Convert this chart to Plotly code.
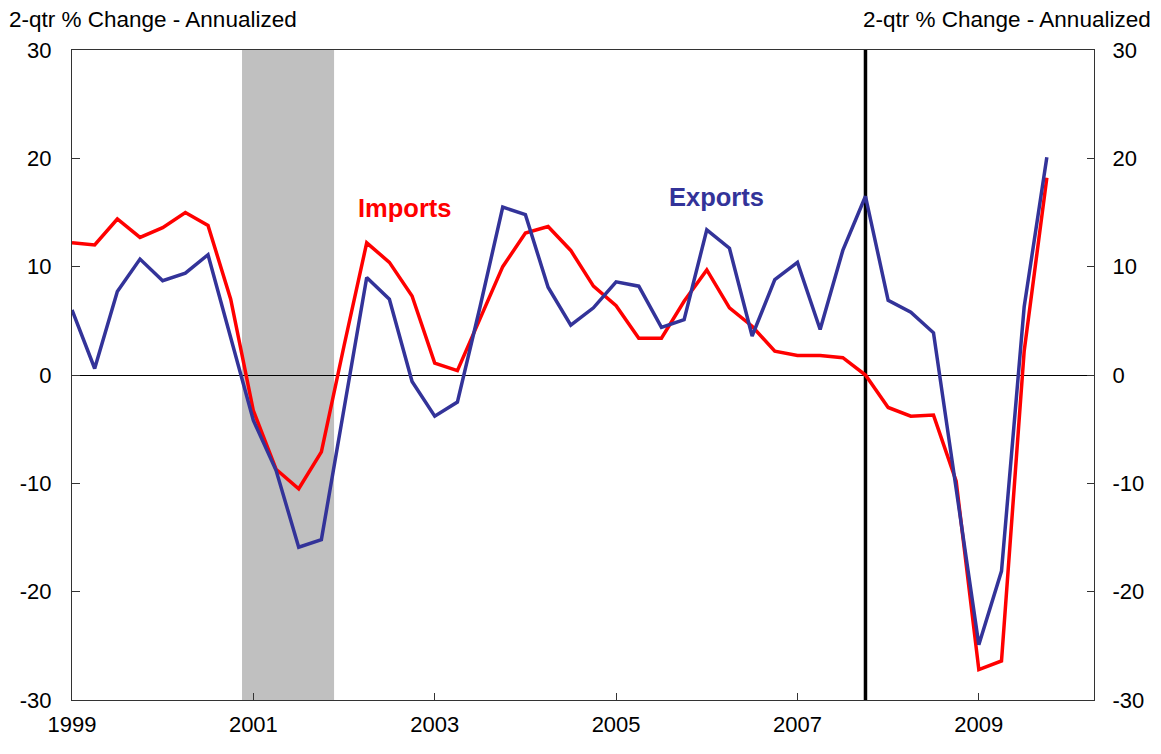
import plotly.graph_objects as go

# Quarterly observations, 1999Q1 .. 2009Q4
quarters = [1999 + q / 4 for q in range(44)]

imports = [12.2, 12.0, 14.4, 12.7, 13.6, 15.0, 13.8, 7.0,
           -3.3, -8.7, -10.5, -7.1, 2.7, 12.2, 10.4, 7.3,
           1.1, 0.4, 5.2, 10.0, 13.1, 13.7, 11.5, 8.2,
           6.4, 3.4, 3.4, 6.8, 9.7, 6.2, 4.5, 2.2,
           1.8, 1.8, 1.6, 0.0, -3.0, -3.8, -3.7, -9.8,
           -27.2, -26.4, 2.2, 18.2]

exports = [6.0, 0.6, 7.7, 10.7, 8.7, 9.4, 11.1, 3.5,
           -4.2, -8.8, -15.9, -15.2, -3.3, 9.0, 7.0, -0.6,
           -3.8, -2.5, 6.3, 15.5, 14.8, 8.1, 4.6, 6.2,
           8.6, 8.2, 4.4, 5.1, 13.4, 11.7, 3.6, 8.8,
           10.4, 4.2, 11.5, 16.5, 6.9, 5.8, 3.9, -10.5,
           -24.9, -18.1, 6.3, 20.1]

recession = [2000.875, 2001.89]
cycle_peak = 2007.75
x_ticks = [1999, 2001, 2003, 2005, 2007, 2009]
y_ticks = [-30, -20, -10, 0, 10, 20, 30]
y_tick_text = ["-30", "-20", "-10", "0", "10", "20", "30"]
x_range = [1999, 2010.27]
y_range = [-30, 30]
axis_title = "2-qtr % Change - Annualized"

FONT = "Liberation Sans, Arial, sans-serif"
RED = "#FF0000"
BLUE = "#333399"
AXC = "#333333"

fig = go.Figure()
fig.add_trace(go.Scatter(x=quarters, y=imports, mode="lines", name="Imports",
                         line=dict(color=RED, width=3.5), showlegend=False))
fig.add_trace(go.Scatter(x=quarters, y=exports, mode="lines", name="Exports",
                         line=dict(color=BLUE, width=3.5), showlegend=False,
                         yaxis="y2"))

fig.add_shape(type="rect", xref="x", yref="paper", x0=recession[0], x1=recession[1],
              y0=0, y1=1, fillcolor="#C0C0C0", line_width=0, layer="below")
fig.add_shape(type="line", xref="x", yref="paper", x0=cycle_peak, x1=cycle_peak,
              y0=0, y1=1, line=dict(color="black", width=3.5), layer="below")

fig.add_annotation(x=2002.67, y=15.4, text="<b>Imports</b>", showarrow=False,
                   font=dict(color=RED, size=25.5, family=FONT))
fig.add_annotation(x=2006.11, y=16.4, text="<b>Exports</b>", showarrow=False,
                   font=dict(color=BLUE, size=25.5, family=FONT))

fig.add_annotation(xref="paper", yref="paper", x=0, y=1, xshift=-65, yshift=31,
                   xanchor="left", yanchor="middle", text=axis_title, showarrow=False,
                   font=dict(color="black", size=22.5, family=FONT))
fig.add_annotation(xref="paper", yref="paper", x=1, y=1, xshift=59, yshift=31,
                   xanchor="right", yanchor="middle", text=axis_title, showarrow=False,
                   font=dict(color="black", size=22.5, family=FONT))

# page body adds an 8px offset, so margins are shifted to keep the plot area in place
fig.update_layout(
    width=1161, height=754,
    margin=dict(l=64, r=75, t=42, b=62, autoexpand=False),
    plot_bgcolor="white", paper_bgcolor="white",
    font=dict(family=FONT, size=22, color="black"),
    xaxis=dict(range=x_range, tickvals=x_ticks, ticks="inside", ticklen=7,
               tickcolor=AXC, showline=True, linecolor=AXC, linewidth=1.3,
               mirror=True, showgrid=False, zeroline=False, automargin=False,
               ticklabelstandoff=4),
    yaxis=dict(range=y_range, tickvals=y_ticks, ticktext=y_tick_text,
               ticks="inside", ticklen=8, automargin=False,
               tickcolor=AXC, showline=True, linecolor=AXC, linewidth=1.3,
               showgrid=False, zeroline=True, zerolinecolor="black",
               zerolinewidth=1.2, ticklabelstandoff=15),
    yaxis2=dict(range=y_range, tickvals=y_ticks, ticktext=y_tick_text,
                ticks="inside", ticklen=7, automargin=False,
                tickcolor=AXC, showline=True, linecolor=AXC, linewidth=1.3,
                showgrid=False, zeroline=False, overlaying="y", side="right",
                ticklabelstandoff=13),
    hovermode=False,
)

fig.write_html("out.html")
